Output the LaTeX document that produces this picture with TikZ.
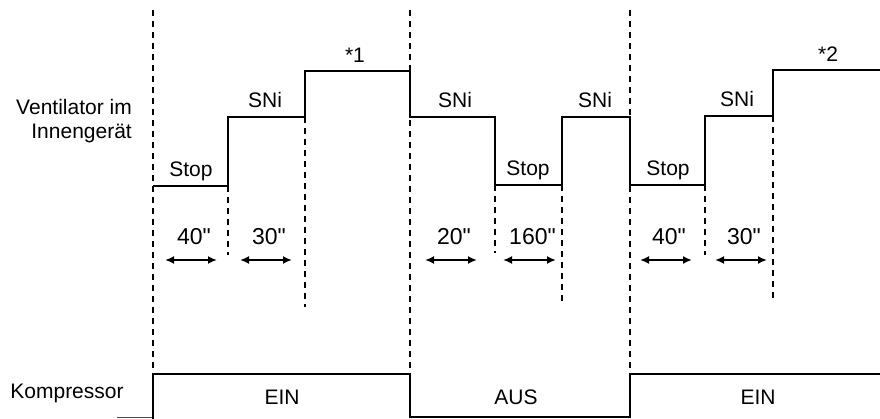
\documentclass[tikz,border=0pt]{standalone}
\usepackage{fontspec}
\setmainfont{Liberation Sans}
\usetikzlibrary{arrows.meta,calc}
\tikzset{
  wave/.style={line width=2.2pt, line join=miter},
  guide/.style={dash pattern=on 6pt off 5pt, line width=1.8pt},
  span/.style={{Latex[length=9pt,width=8pt]}-{Latex[length=9pt,width=8pt]}, line width=1.8pt},
  lbl/.style={anchor=base, inner sep=0pt, font=\fontsize{21}{24}\selectfont},
  dur/.style={lbl, font=\fontsize{23}{26}\selectfont},
}
\begin{document}
\begin{tikzpicture}[x=1pt, y=-1pt]
                \useasboundingbox (0,0) rectangle (880,419);

                % Guide lines
                \draw[guide] (153,10) -- (153,374);
                \draw[guide] (410,10) -- (410,374);
                \draw[guide] (630,10) -- (630,374);
                \draw[guide] (228,186) -- (228,255);
                \draw[guide] (305,117) -- (305,307);
                \draw[guide] (495,185) -- (495,253);
                \draw[guide] (562,185) -- (562,303);
                \draw[guide] (705,185) -- (705,255);
                \draw[guide] (773,116) -- (773,298);

                % Fan in the indoor unit
                \draw[wave] (153,186) -- (228,186) -- (228,117) -- (305,117) -- (305,71) -- (410,71)
                    -- (410,117) -- (495,117) -- (495,185) -- (562,185) -- (562,117) -- (630,117)
                    -- (630,185) -- (705,185) -- (705,116) -- (773,116) -- (773,70) -- (880,70);
                \node[lbl, anchor=base east] (fan1) at (132,115) {Ventilator im};
                \node[lbl, anchor=base east] (fan2) at (132,139) {Innengerät};
                \node[lbl] (stop1) at (191,177) {Stop};
                \node[lbl] (sni1) at (265,108) {SNi};
                \node[lbl] (top1) at (355,63) {*1};
                \node[lbl] (sni2) at (455,108) {SNi};
                \node[lbl] (stop2) at (528,176) {Stop};
                \node[lbl] (sni3) at (595,108) {SNi};
                \node[lbl] (stop3) at (668,176) {Stop};
                \node[lbl] (sni4) at (737,107) {SNi};
                \node[lbl] (top2) at (828,62) {*2};

                % Time spans
                \foreach \a/\b/\t [count=\i] in {165/217/40, 240/292/30, 425/477/20, 503/556/160, 640/692/40, 715/767/30} {
                    \coordinate (s\i l) at (\a,260);
                    \coordinate (s\i r) at (\b,260);
                    \draw[span] (s\i l) -- (s\i r);
                    \node[dur] (t\i) at ($(s\i l)!0.5!(s\i r)+(3,-15)$) {\t\textquotedbl};
                }

                % Compressor
                \draw[line width=1pt, black!70] (117,417) -- (153,417);
                \draw[wave] (153,419) -- (153,374) -- (410,374) -- (410,417) -- (630,417) -- (630,374) -- (880,374);
                \node[lbl] (comp) at (67,398) {Kompressor};
                \node[lbl] (ein1) at (282,404) {EIN};
                \node[lbl] (aus) at (516,404) {AUS};
                \node[lbl] (ein2) at (758,404) {EIN};
\end{tikzpicture}
\end{document}
